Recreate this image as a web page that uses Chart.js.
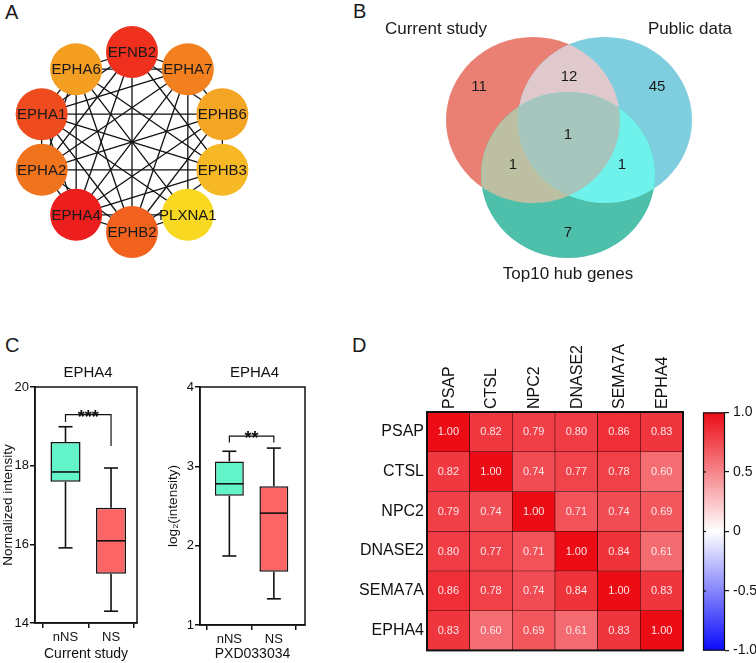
<!DOCTYPE html>
<html><head><meta charset="utf-8">
<script src="https://cdn.jsdelivr.net/npm/chart.js@4.4.1/dist/chart.umd.min.js"></script>
<style>
html,body{margin:0;padding:0;background:#fff;width:756px;height:663px;overflow:hidden;font-family:"Liberation Sans",Arial,sans-serif;}
canvas{position:absolute;}
.letter{position:absolute;font-size:20px;line-height:1;color:#1a1a1a;font-family:"Liberation Sans",Arial,sans-serif;}
</style></head><body>
<div class="letter" style="left:5px;top:2px">A</div>
<div class="letter" style="left:353px;top:1px">B</div>
<div class="letter" style="left:5px;top:335px">C</div>
<div class="letter" style="left:352px;top:335px">D</div>
<canvas id="net" width="240" height="240" style="left:12px;top:22px"></canvas>
<canvas id="venn" width="386" height="300" style="left:370px;top:0px"></canvas>
<canvas id="box1" width="150" height="308" style="left:0px;top:355px"></canvas>
<canvas id="box2" width="150" height="308" style="left:165px;top:355px"></canvas>
<canvas id="heat" width="350" height="333" style="left:340px;top:330px"></canvas>
<canvas id="cbar" width="61" height="263" style="left:695px;top:400px"></canvas>
<script>
// ---------------- DATA ----------------
// Panel A: network (top10 hub genes), clockwise from top
const hubGenes = ['EFNB2','EPHA7','EPHB6','EPHB3','PLXNA1','EPHB2','EPHA4','EPHA2','EPHA1','EPHA6'];
const hubEdges = [
  [0,1],[0,2],[0,3],[0,5],[0,6],[0,7],[0,8],[0,9],
  [1,4],[1,5],[1,6],[1,7],[1,8],[1,9],[1,2],
  [2,5],[2,6],[2,7],[2,8],[2,3],
  [3,5],[3,6],[3,7],[3,8],[3,9],
  [4,6],[4,8],[4,9],[4,5],
  [5,6],[5,7],[5,8],[5,9],
  [6,7],[6,8],[6,9],
  [7,8],[7,9],
  [8,9]
];
// Panel B: Venn counts
const vennSetNames = ['Current study','Public data','Top10 hub genes'];
const vennCounts = [11, 45, 7, 12, 1, 1, 1]; // onlyA, onlyB, onlyC, AB, AC, BC, ABC
// Panel C: box plot statistics
const boxGroups = ['nNS','NS'];
const curMin = [15.91, 14.30], curQ1 = [17.59, 15.25], curMed = [17.84, 16.09], curQ3 = [18.60, 16.93], curMax = [18.99, 17.94];
const pubMin = [1.87, 1.33], pubQ1 = [2.63, 1.67], pubMed = [2.78, 2.41], pubQ3 = [3.06, 2.75], pubMax = [3.19, 3.23];
const curTicks = [14, 16, 18, 20];
const pubTicks = [1, 2, 3, 4];
// Panel D: correlation matrix
const corrGenes = ['PSAP','CTSL','NPC2','DNASE2','SEMA7A','EPHA4'];
const corrPSAP   = [1.00, 0.82, 0.79, 0.80, 0.86, 0.83];
const corrCTSL   = [0.82, 1.00, 0.74, 0.77, 0.78, 0.60];
const corrNPC2   = [0.79, 0.74, 1.00, 0.71, 0.74, 0.69];
const corrDNASE2 = [0.80, 0.77, 0.71, 1.00, 0.84, 0.61];
const corrSEMA7A = [0.86, 0.78, 0.74, 0.84, 1.00, 0.83];
const corrEPHA4  = [0.83, 0.60, 0.69, 0.61, 0.83, 1.00];
const colorbarTicks = [-1, -0.5, 0, 0.5, 1];

// ---------------- STYLE / LAYOUT ----------------
Chart.defaults.font.family = '"Liberation Sans", Arial, sans-serif';
Chart.defaults.color = '#111';
Chart.defaults.animation = false;
const INK = '#111';
const FONT = '"Liberation Sans", Arial, sans-serif';
const nodeColors = ['#f0301e','#f2801e','#f5a524','#f6b824','#f8d820','#f0621e','#ec1e1e','#f0731e','#ee4c1e','#f49e22'];
const nodeRx = 0.95, nodeRy = 0.90;
function nodePos(i){ const a = i*2*Math.PI/hubGenes.length; return {x: nodeRx*Math.sin(a), y: nodeRy*Math.cos(a)}; }

// ---------------- PANEL A ----------------
(function(){
  const ds = hubEdges.map(e => ({
    type:'scatter', data:[nodePos(e[0]), nodePos(e[1])], showLine:true, clip:false,
    borderColor:INK, borderWidth:1.3, pointRadius:0, order:2
  }));
  ds.push({type:'scatter', data: hubGenes.map((g,i)=>nodePos(i)), pointRadius:26, clip:false,
    backgroundColor: nodeColors, borderWidth:0, order:1});
  const labels = {
    id:'nodeLabels',
    afterDatasetsDraw(chart){
      const meta = chart.getDatasetMeta(chart.data.datasets.length-1);
      const ctx = chart.ctx; ctx.save();
      ctx.font = '15px ' + FONT;
      ctx.fillStyle = '#1a1a1a'; ctx.textAlign='center'; ctx.textBaseline='middle';
      meta.data.forEach((p,i)=>ctx.fillText(hubGenes[i], p.x, p.y+1));
      ctx.restore();
    }
  };
  new Chart(document.getElementById('net'), {
    type:'scatter', data:{datasets:ds},
    options:{responsive:false, events:[], layout:{padding:0, autoPadding:false},
      plugins:{legend:{display:false}, tooltip:{enabled:false}},
      scales:{x:{type:'linear',display:false,min:-1.2,max:1.2}, y:{type:'linear',display:false,min:-1.2,max:1.2}}},
    plugins:[labels]
  });
})();

// ---------------- PANEL B ----------------
(function(){
  // ellipse layout in page pixels: [cx, cy, rx, ry]
  const shapes = [[533,120,87,83],[605,120,87,83],[568,175,87,83]];
  const regionFill = {A:'#e98073', B:'#7ecee0', C:'#4dbfaa', AB:'#e0c9cd', AC:'#bcbfa1', BC:'#6ff2ec', ABC:'#a5c5bd'};
  const countPos = [[479,87],[657,87],[568,233],[569,77],[513,165],[622,165],[568,135]];
  const namePos = [[436,29],[690,29],[568,274]];
  const venn = {
    id:'venn',
    beforeDatasetsDraw(chart){
      const {ctx, scales:{x,y}} = chart;
      const path = (s)=>{ const cx=x.getPixelForValue(s[0]), cy=y.getPixelForValue(s[1]);
        const rx=Math.abs(x.getPixelForValue(s[0]+s[2])-cx), ry=Math.abs(y.getPixelForValue(s[1]+s[3])-cy);
        ctx.beginPath(); ctx.ellipse(cx,cy,rx,ry,0,0,Math.PI*2); };
      const fill=(s,c)=>{path(s); ctx.fillStyle=c; ctx.fill();};
      const clip=(s)=>{path(s); ctx.clip();};
      const [A,B,C]=shapes;
      ctx.save();
      fill(A,regionFill.A); fill(B,regionFill.B); fill(C,regionFill.C);
      ctx.save(); clip(A); fill(B,regionFill.AB); ctx.restore();
      ctx.save(); clip(A); fill(C,regionFill.AC); ctx.restore();
      ctx.save(); clip(B); fill(C,regionFill.BC); ctx.restore();
      ctx.save(); clip(A); clip(B); fill(C,regionFill.ABC); ctx.restore();
      ctx.restore();
    },
    afterDatasetsDraw(chart){
      const {ctx, scales:{x,y}} = chart;
      const meta = chart.getDatasetMeta(0);
      ctx.save(); ctx.fillStyle='#1a1a1a'; ctx.textAlign='center'; ctx.textBaseline='middle';
      ctx.font='15px ' + FONT;
      meta.data.forEach((p,i)=>ctx.fillText(String(vennCounts[i]), p.x, p.y));
      ctx.font='17px ' + FONT;
      namePos.forEach((q,i)=>ctx.fillText(vennSetNames[i], x.getPixelForValue(q[0]), y.getPixelForValue(q[1])));
      ctx.restore();
    }
  };
  new Chart(document.getElementById('venn'), {
    type:'scatter',
    data:{datasets:[{data: countPos.map(q=>({x:q[0],y:q[1]})), pointRadius:0}]},
    options:{responsive:false, events:[], layout:{padding:0, autoPadding:false},
      plugins:{legend:{display:false}, tooltip:{enabled:false}},
      scales:{x:{type:'linear',display:false,min:370,max:756}, y:{type:'linear',display:false,min:0,max:300,reverse:true}}},
    plugins:[venn]
  });
})();

// ---------------- PANEL C ----------------
function boxChart(id, st, opt){
  const plug = {
    id:'boxwhisk',
    afterDatasetsDraw(chart){
      const {ctx, scales:{y}} = chart;
      const meta = chart.getDatasetMeta(0);
      const line=(x1,y1,x2,y2)=>{ctx.beginPath();ctx.moveTo(x1,y1);ctx.lineTo(x2,y2);ctx.stroke();};
      ctx.save(); ctx.strokeStyle=INK; ctx.lineWidth=1.6; ctx.lineCap='butt';
      const xs=[];
      meta.data.forEach((el,i)=>{
        const x=el.x, hw=el.width/2, cap=7; xs.push(x);
        const py=v=>y.getPixelForValue(v);
        line(x-hw+0.5, py(st.med[i]), x+hw-0.5, py(st.med[i]));
        line(x, py(st.q3[i]), x, py(st.max[i]));
        line(x, py(st.q1[i]), x, py(st.min[i]));
        line(x-cap, py(st.max[i]), x+cap, py(st.max[i]));
        line(x-cap, py(st.min[i]), x+cap, py(st.min[i]));
      });
      // significance bracket
      const b=opt.bracket, by=y.getPixelForValue(b.y);
      ctx.lineWidth=1.2;
      ctx.beginPath(); ctx.moveTo(xs[0], y.getPixelForValue(b.left)); ctx.lineTo(xs[0], by);
      ctx.lineTo(xs[1], by); ctx.lineTo(xs[1], y.getPixelForValue(b.right)); ctx.stroke();
      ctx.fillStyle=INK; ctx.font='bold 18px ' + FONT;
      ctx.textAlign='center'; ctx.textBaseline='alphabetic';
      ctx.fillText(b.label, (xs[0]+xs[1])/2, by+8);
      // frame
      const a=chart.chartArea; ctx.lineWidth=1.5;
      ctx.strokeRect(a.left, a.top, a.right-a.left, a.bottom-a.top);
      // title
      ctx.font='15px ' + FONT; ctx.textBaseline='middle';
      ctx.fillText(opt.title, (a.left+a.right)/2+2, a.top-14);
      ctx.restore();
    }
  };
  new Chart(document.getElementById(id), {
    type:'bar',
    data:{datasets:[{
      data: boxGroups.map((g,i)=>({x:i, y:[st.q1[i], st.q3[i]]})),
      backgroundColor:['#62f4c8','#fb6565'], borderColor:INK, borderWidth:1.5, borderSkipped:false,
      barPercentage: opt.barPct, categoryPercentage:1
    }]},
    options:{responsive:false, events:[],
      layout:{padding:{left:0,right:opt.padRight,top:32,bottom:0}},
      plugins:{legend:{display:false}, tooltip:{enabled:false}},
      scales:{
        x:{type:'linear', min:opt.xMin, max:opt.xMax, offset:false,
           afterBuildTicks(s){ s.ticks = boxGroups.map((g,i)=>({value:i})); },
           grid:{display:true, drawOnChartArea:false, drawTicks:true, tickLength:5, color:INK, lineWidth:1.5},
           border:{display:true, color:INK, width:1.5},
           ticks:{color:INK, font:{size:13}, padding:2, callback:(v,i)=>boxGroups[i]},
           title:{display:true, text:opt.xTitle, color:INK, font:{size:14}, padding:0},
           afterFit(s){ s.height = opt.xH; }},
        y:{min:opt.min, max:opt.max, afterBuildTicks(s){ s.ticks = opt.ticks.map(v=>({value:v})); },
           grid:{display:true, drawOnChartArea:false, tickLength:5, color:INK, lineWidth:1.5},
           border:{display:true, color:INK, width:1.5},
           ticks:{color:INK, font:{size:13}, padding:1},
           title:{display:true, text:opt.yTitle, color:INK, font:{size:13.5}, padding:0},
           afterFit(s){ s.width = 35; }}
      }},
    plugins:[plug]
  });
}
boxChart('box1', {min:curMin,q1:curQ1,med:curMed,q3:curQ3,max:curMax},
  {min:14,max:20,ticks:curTicks,padRight:13,xH:40,barPct:0.66,xMin:-0.67,xMax:1.57,
   xTitle:'Current study',yTitle:'Normalized intensity',title:'EPHA4',
   bracket:{y:19.30,left:19.11,right:18.50,label:'***'}});
boxChart('box2', {min:pubMin,q1:pubQ1,med:pubMed,q3:pubQ3,max:pubMax},
  {min:1,max:4,ticks:pubTicks,padRight:10,xH:38,barPct:0.65,xMin:-0.66,xMax:1.70,
   xTitle:'PXD033034',yTitle:'log\u2082(intensity)',title:'EPHA4',
   bracket:{y:3.38,left:3.30,right:3.30,label:'**'}});

// ---------------- PANEL D ----------------
const corrRows = [corrPSAP, corrCTSL, corrNPC2, corrDNASE2, corrSEMA7A, corrEPHA4];
const RED=[236,12,22], BLUE=[10,10,250];
function corrColor(v){
  const c = v>=0 ? RED : BLUE, t=Math.abs(v);
  const m = k => Math.round(255 + (c[k]-255)*t);
  return `rgb(${m(0)},${m(1)},${m(2)})`;
}
(function(){
  const plug = {
    id:'heatText',
    afterDatasetsDraw(chart){
      const ctx=chart.ctx; ctx.save();
      ctx.font='11px ' + FONT; ctx.fillStyle='rgba(255,238,238,0.95)';
      ctx.textAlign='center'; ctx.textBaseline='middle';
      chart.data.datasets.forEach((d,i)=>{
        chart.getDatasetMeta(i).data.forEach((el,j)=>{
          ctx.fillText(corrRows[i][j].toFixed(2), el.x, (el.y+el.base)/2 + 0.5);
        });
      });
      const a=chart.chartArea; ctx.strokeStyle=INK; ctx.lineWidth=2;
      ctx.strokeRect(a.left, a.top, a.right-a.left, a.bottom-a.top);
      // rotated column labels from the x scale
      const xs = chart.scales.x;
      ctx.fillStyle=INK; ctx.font='16px ' + FONT; ctx.textAlign='left'; ctx.textBaseline='middle';
      xs.ticks.forEach((t,i)=>{
        ctx.save(); ctx.translate(xs.getPixelForTick(i), a.top-3); ctx.rotate(-Math.PI/2);
        ctx.fillText(xs.getLabelForValue(t.value), 0, 1); ctx.restore();
      });
      ctx.restore();
    }
  };
  new Chart(document.getElementById('heat'), {
    type:'bar',
    data:{labels: corrGenes, datasets: corrRows.map((row,i)=>({
      label: corrGenes[i], data: row.map(()=>1), backgroundColor: row.map(corrColor),
      borderColor:'#3a0808', borderWidth:0.6, borderSkipped:false,
      barPercentage:1, categoryPercentage:1, stack:'m'
    }))},
    options:{responsive:false, events:[],
      layout:{padding:{left:0,right:7,top:0,bottom:10}},
      plugins:{legend:{display:false}, tooltip:{enabled:false}},
      scales:{
        x:{position:'top', stacked:true, grid:{display:false, drawTicks:false}, border:{display:false},
           ticks:{display:false, autoSkip:false},
           afterFit(s){ s.height = 82; }},
        y:{type:'linear', stacked:true, min:0, max:6, reverse:true,
           afterBuildTicks(s){ s.ticks = corrGenes.map((g,i)=>({value:i+0.5})); },
           grid:{display:false, drawTicks:false}, border:{display:false},
           ticks:{color:INK, font:{size:16}, padding:3, autoSkip:false, callback:(v,i)=>corrGenes[i]},
           afterFit(s){ s.width = 87; }}
      }},
    plugins:[plug]
  });
})();

// colour bar
(function(){
  const plug = {
    id:'cbarTicks',
    afterDatasetsDraw(chart){
      const {ctx, chartArea:a, scales:{y}} = chart; ctx.save();
      ctx.strokeStyle=INK; ctx.lineWidth=1.2;
      colorbarTicks.forEach(v=>{ const py=y.getPixelForValue(v);
        if (v>-1 && v<1){ ctx.beginPath(); ctx.moveTo(a.left, py); ctx.lineTo(a.left+3, py); ctx.stroke(); }});
      ctx.strokeRect(a.left+0.5, a.top+0.5, a.right-a.left-1, a.bottom-a.top-1);
      ctx.restore();
    }
  };
  new Chart(document.getElementById('cbar'), {
    type:'bar',
    data:{labels:['r'], datasets:[{
      data:[[colorbarTicks[0], colorbarTicks[colorbarTicks.length-1]]],
      backgroundColor(ctx){
        const a = ctx.chart.chartArea; if(!a) return '#fff';
        const g = ctx.chart.ctx.createLinearGradient(0, a.bottom, 0, a.top);
        g.addColorStop(0, corrColor(-1)); g.addColorStop(0.5, '#ffffff'); g.addColorStop(1, corrColor(1));
        return g;
      },
      borderWidth:0, barPercentage:1, categoryPercentage:1
    }]},
    options:{responsive:false, events:[],
      layout:{padding:{left:8,right:0,top:12,bottom:10}},
      plugins:{legend:{display:false}, tooltip:{enabled:false}},
      scales:{
        x:{display:false},
        y:{position:'right', min:-1, max:1,
           afterBuildTicks(s){ s.ticks = colorbarTicks.map(v=>({value:v})); },
           grid:{display:true, drawOnChartArea:false, tickLength:4, color:INK, lineWidth:1.2},
           border:{display:false},
           ticks:{color:INK, font:{size:14}, padding:4, callback:v=> v===0 ? '0' : v.toFixed(1)},
           afterFit(s){ s.width = 31; }}
      }},
    plugins:[plug]
  });
})();
</script>
</body></html>
